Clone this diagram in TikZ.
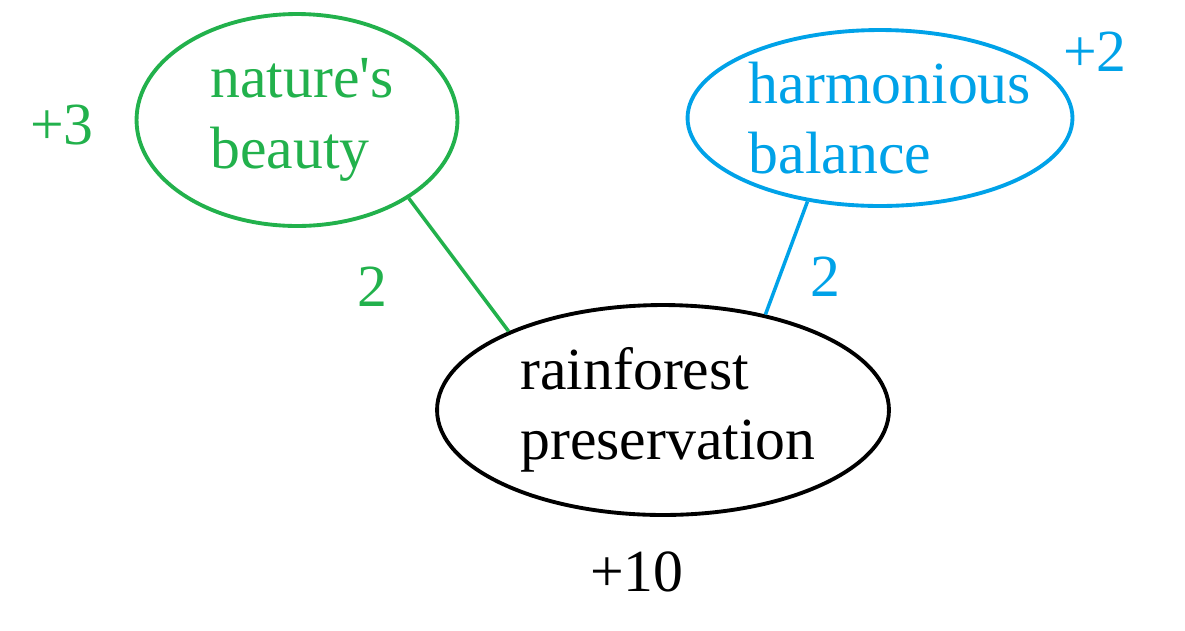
\documentclass[tikz,border=0pt]{standalone}
\usepackage{fontspec}
\setmainfont{Liberation Serif}
\usetikzlibrary{shapes.geometric}

\definecolor{paintgreen}{RGB}{34,177,76}
\definecolor{paintblue}{RGB}{0,162,232}

\tikzset{
  idea/.style={ellipse, draw, line width=2.2pt, align=left, inner sep=0pt,
    font=\fontsize{34}{40}\selectfont},
  score/.style={font=\fontsize{34}{40}\selectfont, inner sep=0pt},
  link/.style={line width=2pt}
}

\begin{document}
\begin{tikzpicture}[x=0.02cm, y=-0.02cm]

\useasboundingbox (0,0) rectangle (1185,630);

\node[idea, draw=paintgreen, text=paintgreen, minimum width=6.42cm, minimum height=4.24cm] (nb) at (297,120) {\hspace*{0.2cm}nature\textquotesingle s\\\hspace*{0.2cm}beauty};
\node[idea, draw=paintblue, text=paintblue, inner xsep=-1.5cm, minimum width=7.7cm, minimum height=3.52cm] (hb) at (880,118) {\hspace*{0.4cm}harmonious\\\hspace*{0.4cm}balance};
\node[idea, draw=black, minimum width=9.04cm, minimum height=4.2cm] (rp) at (663,410) {\hspace*{0.2cm}rainforest\\\hspace*{0.2cm}preservation};

\draw[link, paintgreen] (nb.-35) -- (rp.153);
\draw[link, paintblue] (hb.229) -- (rp.43);

\node[score, paintgreen] (nbw) at (62,125) {+3};
\node[score, paintgreen] (nbe) at (372,287) {2};
\node[score, paintblue] (hbw) at (1095,52) {+2};
\node[score, paintblue] (hbe) at (825,277) {2};
\node[score] (rpw) at (637,572) {+10};

\end{tikzpicture}
\end{document}
